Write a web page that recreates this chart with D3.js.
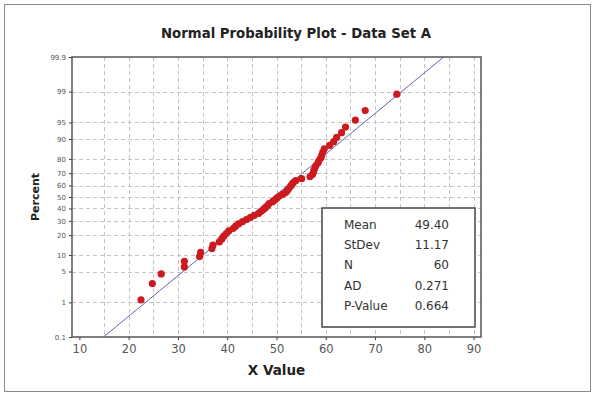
<!DOCTYPE html>
<html>
<head>
<meta charset="utf-8">
<script src="https://cdn.jsdelivr.net/npm/d3@7"></script>
<style>
  html, body { margin: 0; padding: 0; background: #fff; }
  svg { display: block; font-family: "DejaVu Sans", Verdana, sans-serif; }
</style>
</head>
<body>
<svg id="chart" width="596" height="399"></svg>
<script>
// ── Data ────────────────────────────────────────────────────────────────────
const xValues = [
  22.5, 24.8, 26.6, 31.3, 31.3, 34.4, 34.6, 36.9, 37.1, 38.4,
  38.9, 39.3, 39.8, 40.3, 41.2, 41.7, 42.3, 43.1, 43.9, 44.7,
  45.5, 46.4, 46.9, 47.4, 47.8, 48.2, 48.5, 49.2, 49.7, 50.1,
  50.6, 51.3, 51.9, 52.2, 52.5, 52.8, 53.1, 53.4, 53.9, 55.1,
  56.8, 57.3, 57.5, 57.6, 57.8, 58.0, 58.4, 58.6, 59.0, 59.2,
  59.4, 59.7, 60.8, 61.6, 62.2, 63.2, 64.0, 66.0, 68.0, 74.4
];
const xTicks = [10, 20, 30, 40, 50, 60, 70, 80, 90];
const xGrid = [15, 20, 25, 30, 35, 40, 45, 50, 55, 60, 65, 70, 75, 80, 85, 90];
const yTicks = [0.1, 1, 5, 10, 20, 30, 40, 50, 60, 70, 80, 90, 95, 99, 99.9];
const statLabels = ['Mean', 'StDev', 'N', 'AD', 'P-Value'];
const statValues = ['49.40', '11.17', '60', '0.271', '0.664'];
const fitMean = 49.40;
const fitStDev = 11.17;

// ── Inverse normal CDF (Acklam) ─────────────────────────────────────────────
function normInv(p) {
  const a = [-39.69683028665376, 220.9460984245205, -275.9285104469687, 138.3577518672690, -30.66479806614716, 2.506628277459239];
  const b = [-54.47609879822406, 161.5858368580409, -155.6989798598866, 66.80131188771972, -13.28068155288572];
  const c = [-0.007784894002430293, -0.3223964580411365, -2.400758277161838, -2.549732539343734, 4.374664141464968, 2.938163982698783];
  const d = [0.007784695709041462, 0.3224671290700398, 2.445134137142996, 3.754408661907416];
  const pl = 0.02425;
  let q, r;
  if (p < pl) {
    q = Math.sqrt(-2 * Math.log(p));
    return (((((c[0]*q+c[1])*q+c[2])*q+c[3])*q+c[4])*q+c[5]) / ((((d[0]*q+d[1])*q+d[2])*q+d[3])*q+1);
  }
  if (p > 1 - pl) {
    q = Math.sqrt(-2 * Math.log(1 - p));
    return -(((((c[0]*q+c[1])*q+c[2])*q+c[3])*q+c[4])*q+c[5]) / ((((d[0]*q+d[1])*q+d[2])*q+d[3])*q+1);
  }
  q = p - 0.5; r = q * q;
  return (((((a[0]*r+a[1])*r+a[2])*r+a[3])*r+a[4])*r+a[5])*q / (((((b[0]*r+b[1])*r+b[2])*r+b[3])*r+b[4])*r+1);
}

// ── Layout ──────────────────────────────────────────────────────────────────
const svg = d3.select('#chart');
const plot = { left: 72, right: 481, top: 57, bottom: 337 };

const x = d3.scaleLinear().domain([8.5, 91.5]).range([plot.left, plot.right]);
const zMin = normInv(0.001), zMax = normInv(0.999);
const y = d3.scaleLinear().domain([zMin, zMax]).range([plot.bottom, plot.top]);
const yP = p => y(normInv(p / 100));

// outer frame
svg.append('rect')
  .attr('x', 4.5).attr('y', 4.5).attr('width', 586).attr('height', 387)
  .attr('fill', '#fff').attr('stroke', '#8a8a8a').attr('stroke-width', 1);

// title
svg.append('text')
  .attr('x', 296).attr('y', 38)
  .attr('text-anchor', 'middle')
  .attr('font-size', 13.3).attr('font-weight', 'bold').attr('fill', '#222')
  .text('Normal Probability Plot - Data Set A');

// grid
const grid = svg.append('g').attr('stroke', '#c4c4c4').attr('stroke-dasharray', '4,3').attr('stroke-width', 1);
grid.selectAll('.vg').data(xGrid).join('line')
  .attr('class', 'vg')
  .attr('x1', d => Math.round(x(d)) + 0.5).attr('x2', d => Math.round(x(d)) + 0.5)
  .attr('y1', plot.top).attr('y2', plot.bottom);
grid.selectAll('.hg').data(yTicks.slice(1, -1)).join('line')
  .attr('class', 'hg')
  .attr('y1', d => Math.round(yP(d)) + 0.5).attr('y2', d => Math.round(yP(d)) + 0.5)
  .attr('x1', plot.left).attr('x2', plot.right);

// axes
const xAxis = d3.axisBottom(x).tickValues(xTicks).tickSize(3).tickPadding(5);
svg.append('g')
  .attr('transform', `translate(0,${plot.bottom})`)
  .call(xAxis)
  .call(g => g.select('.domain').remove())
  .call(g => g.selectAll('line').attr('stroke', '#333'))
  .call(g => g.selectAll('text').attr('font-size', 11.5).attr('fill', '#555')
    .attr('font-family', '"DejaVu Sans", Verdana, sans-serif'));

const yAxis = d3.axisLeft(y)
  .tickValues(yTicks.map(p => normInv(p / 100)))
  .tickFormat((d, i) => yTicks[i])
  .tickSize(3).tickPadding(3);
svg.append('g')
  .attr('transform', `translate(${plot.left},0)`)
  .call(yAxis)
  .call(g => g.select('.domain').remove())
  .call(g => g.selectAll('line').attr('stroke', '#333'))
  .call(g => g.selectAll('text').attr('font-size', 7).attr('fill', '#555')
    .attr('font-family', '"DejaVu Sans", Verdana, sans-serif'));

// axis titles
svg.append('text')
  .attr('x', (plot.left + plot.right) / 2).attr('y', 375)
  .attr('text-anchor', 'middle')
  .attr('font-size', 13.5).attr('font-weight', 'bold').attr('fill', '#222')
  .text('X Value');
svg.append('text')
  .attr('transform', `translate(39,${(plot.top + plot.bottom) / 2}) rotate(-90)`)
  .attr('text-anchor', 'middle')
  .attr('font-size', 11).attr('font-weight', 'bold').attr('fill', '#222')
  .text('Percent');

// clip for marks
svg.append('clipPath').attr('id', 'plotClip')
  .append('rect')
  .attr('x', plot.left).attr('y', plot.top)
  .attr('width', plot.right - plot.left).attr('height', plot.bottom - plot.top);

const marks = svg.append('g').attr('clip-path', 'url(#plotClip)');

// fitted line
const fitZ = [zMin, zMax];
marks.append('path')
  .datum(fitZ)
  .attr('fill', 'none')
  .attr('stroke', '#5a68b4')
  .attr('stroke-width', 1)
  .attr('d', d3.line().x(z => x(fitMean + z * fitStDev)).y(z => y(z)));

// points (median-rank plotting positions)
const n = xValues.length;
marks.selectAll('.pt').data(xValues).join('circle')
  .attr('class', 'pt')
  .attr('cx', d => x(d))
  .attr('cy', (d, i) => yP((i + 1 - 0.3) / (n + 0.4) * 100))
  .attr('r', 3.6)
  .attr('fill', '#cc1a1f');

// plot frame
svg.append('rect')
  .attr('x', plot.left).attr('y', plot.top)
  .attr('width', plot.right - plot.left).attr('height', plot.bottom - plot.top)
  .attr('fill', 'none').attr('stroke', '#555').attr('stroke-width', 1.5);

// stats box
const box = { x: 322, y: 208, w: 153, h: 119 };
svg.append('rect')
  .attr('x', box.x).attr('y', box.y).attr('width', box.w).attr('height', box.h)
  .attr('fill', '#fff').attr('stroke', '#444').attr('stroke-width', 1.5);

const rows = svg.append('g').attr('font-size', 12).attr('fill', '#333');
rows.selectAll('.sl').data(statLabels).join('text')
  .attr('class', 'sl')
  .attr('x', 344).attr('y', (d, i) => 229 + i * 20.2)
  .text(d => d);
rows.selectAll('.sv').data(statValues).join('text')
  .attr('class', 'sv')
  .attr('x', 449).attr('y', (d, i) => 229 + i * 20.2)
  .attr('text-anchor', 'end')
  .text(d => d);
</script>
</body>
</html>
